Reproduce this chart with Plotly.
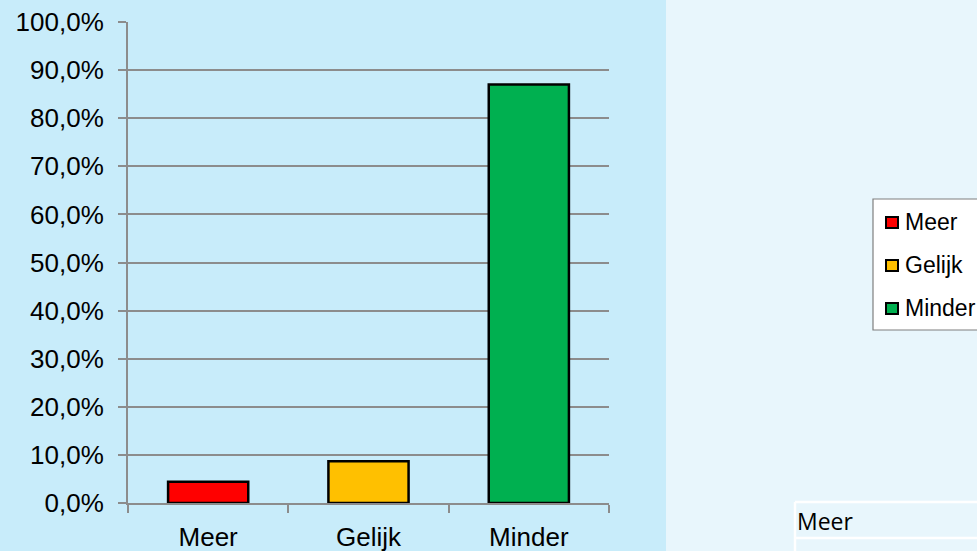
import plotly.graph_objects as go

categories = ["Meer", "Gelijk", "Minder"]
values = [0.044, 0.087, 0.870]
colors = ["#FF0000", "#FFC000", "#00B050"]
y_ticks = [0, 0.1, 0.2, 0.3, 0.4, 0.5, 0.6, 0.7, 0.8, 0.9, 1.0]
table_label = "Meer"

W, H = 977, 551
ML, MR, MT, MB = 128, 368, 22, 48
PW = W - ML - MR
PH = H - MT - MB

def px_x(x):
    return (x - ML) / PW

def px_y(y):
    return (H - MB - y) / PH

fig = go.Figure()
for cat, val, col in zip(categories, values, colors):
    fig.add_trace(go.Bar(
        x=[cat], y=[val], name=cat, width=0.5,
        marker=dict(color=col, line=dict(color="#000000", width=2.5)),
        showlegend=False,
    ))

shapes = [
    dict(type="rect", xref="paper", yref="paper", x0=px_x(-5), x1=px_x(666),
         y0=px_y(H + 5), y1=px_y(-5), fillcolor="#C8ECFA", line=dict(width=0), layer="below"),
    # table lines bottom-right
    dict(type="line", xref="paper", yref="paper", x0=px_x(795), x1=px_x(985),
         y0=px_y(502), y1=px_y(502), line=dict(color="#FFFFFF", width=2.5)),
    dict(type="line", xref="paper", yref="paper", x0=px_x(795), x1=px_x(985),
         y0=px_y(538), y1=px_y(538), line=dict(color="#FFFFFF", width=2.5)),
    dict(type="line", xref="paper", yref="paper", x0=px_x(795), x1=px_x(795),
         y0=px_y(502), y1=px_y(560), line=dict(color="#FFFFFF", width=2.5)),
    # legend box
    dict(type="rect", xref="paper", yref="paper", x0=px_x(873), x1=px_x(995),
         y0=px_y(330), y1=px_y(199), fillcolor="#FFFFFF",
         line=dict(color="#7F7F7F", width=1.2)),
]

annotations = [
    dict(text=table_label, xref="paper", yref="paper", x=px_x(795), y=px_y(521),
         xanchor="left", yanchor="middle", showarrow=False,
         font=dict(family="Open Sans", size=23, color="#000000")),
]

legend_y = [222, 265, 308]
for cat, col, ly in zip(categories, colors, legend_y):
    shapes.append(dict(type="rect", xref="paper", yref="paper",
                       x0=px_x(886), x1=px_x(898), y0=px_y(ly + 6), y1=px_y(ly - 5),
                       fillcolor=col, line=dict(color="#000000", width=2)))
    annotations.append(dict(text=cat, xref="paper", yref="paper", x=px_x(903), y=px_y(ly),
                            xanchor="left", yanchor="middle", showarrow=False,
                            font=dict(size=23, color="#000000")))

fig.update_layout(
    width=W, height=H,
    margin=dict(l=ML, r=MR, t=MT, b=MB, autoexpand=False),
    paper_bgcolor="#E8F6FC",
    plot_bgcolor="rgba(0,0,0,0)",
    separators=",.",
    barmode="overlay",
    font=dict(family="Liberation Sans, Arial, sans-serif", color="#000000"),
    shapes=shapes,
    annotations=annotations,
    showlegend=False,
    xaxis=dict(
        type="category", categoryorder="array", categoryarray=categories,
        showgrid=False, showline=True, linecolor="#8C8C8C", linewidth=2,
        ticks="outside", tickson="boundaries", ticklen=8, tickcolor="#8C8C8C", tickwidth=2,
        tickfont=dict(size=26, color="#000000"),
        ticklabelstandoff=10,
        range=[-0.5, 2.5], fixedrange=True,
    ),
    yaxis=dict(
        range=[0, 1], tickvals=y_ticks, tickformat=".1%",
        showgrid=True, gridcolor="#8C8C8C", gridwidth=2,
        showline=True, linecolor="#8C8C8C", linewidth=2,
        ticks="outside", ticklen=8, tickcolor="#8C8C8C", tickwidth=2,
        tickfont=dict(size=26, color="#000000"),
        ticklabelstandoff=9,
        zeroline=False, fixedrange=True,
    ),
)

fig.write_html("out.html", config={"displayModeBar": False},
               post_script="document.body.style.margin='0';document.body.style.overflow='hidden';")
